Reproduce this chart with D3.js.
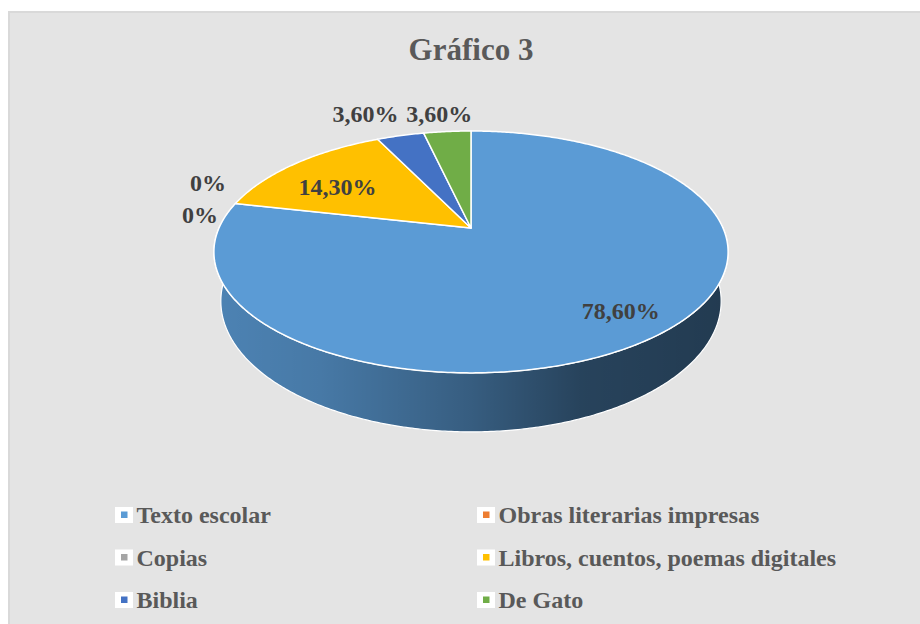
<!DOCTYPE html>
<html>
<head>
<meta charset="utf-8">
<script src="https://cdn.jsdelivr.net/npm/d3@7"></script>
<style>
  html, body { margin: 0; padding: 0; background: #ffffff; }
  svg { display: block; }
  text { font-family: "Liberation Serif", "Times New Roman", serif; font-weight: bold; }
</style>
</head>
<body>
<div id="chart"></div>
<script>
// data
var categories = ['Texto escolar', 'Obras literarias impresas', 'Copias',
                  'Libros, cuentos, poemas digitales', 'Biblia', 'De Gato'];
var values = [78.6, 0, 0, 14.3, 3.6, 3.6];
var colors = ['#5b9bd5', '#ed7d31', '#a5a5a5', '#ffc000', '#4472c4', '#70ad47'];
var title = 'Gráfico 3';

var width = 920,
	height = 624;

var svg = d3.select('#chart').append('svg')
	.attr('width', width)
	.attr('height', height);

// chart area
svg.append('rect')
	.attr('x', 9)
	.attr('y', 12)
	.attr('width', width)
	.attr('height', height)
	.style('fill', '#e4e4e4')
	.style('stroke', '#d9d9d9')
	.style('stroke-width', 2);

svg.append('text')
	.attr('x', 471)
	.attr('y', 60)
	.attr('text-anchor', 'middle')
	.style('font-size', '31px')
	.style('fill', '#595959')
	.text(title);

// 3d pie, perspective look like excel
var CX = 471, CY = 228,
	RX = 252, RY = 116.2,
	K = 0.198, DEPTH = 47.3, BOTTOM_SHRINK = 0.973;

// a = angle clockwise from the back (top of screen), r = fraction of radius
function project(a, r, bottom) {
	var x = Math.sin(a) * r,
		z = -Math.cos(a) * r;
	var w = 1 - K * z;
	var sx = RX * x / w,
		sy = CY + RY * z / w;
	if (bottom) {
		sx = sx * BOTTOM_SHRINK;
		sy = sy + DEPTH / w;
	}
	return [CX + sx, sy];
}

function arcPoints(a0, a1, r, bottom) {
	var n = Math.max(2, Math.ceil(Math.abs(a1 - a0) / 0.01));
	var pts = [];
	for (var i = 0; i <= n; i++) {
		pts.push(project(a0 + (a1 - a0) * i / n, r, bottom));
	}
	return pts;
}

var line = d3.line();

var pie = d3.pie()
	.sort(null)
	.value(function(d) { return d; });
var arcs = pie(values);

// side gradient (shading on the front wall)
var defs = svg.append('defs');
var grad = defs.append('linearGradient')
	.attr('id', 'sideShade')
	.attr('gradientUnits', 'userSpaceOnUse')
	.attr('x1', CX - RX).attr('x2', CX + RX)
	.attr('y1', 0).attr('y2', 0);
[[0, 0.16], [0.2, 0.22], [0.5, 0.40], [0.72, 0.57], [1, 0.62]].forEach(function(s) {
	grad.append('stop')
		.attr('offset', s[0])
		.attr('stop-color', '#000')
		.attr('stop-opacity', s[1]);
});

var FRONT0 = Math.PI / 2, FRONT1 = Math.PI * 3 / 2;
var sides = svg.append('g').classed('sides', true);
arcs.forEach(function(d, i) {
	var a0 = Math.max(d.startAngle, FRONT0),
		a1 = Math.min(d.endAngle, FRONT1);
	if (a1 <= a0) return;
	var pts = arcPoints(a0, a1, 1, false)
		.concat(arcPoints(a1, a0, 1, true));
	var p = line(pts) + 'Z';
	sides.append('path')
		.attr('d', p)
		.style('fill', colors[i]);
	sides.append('path')
		.attr('d', p)
		.style('fill', 'url(#sideShade)')
		.style('stroke', '#ffffff')
		.style('stroke-width', 1.2);
});

// top face
var topFace = svg.append('g').classed('top-face', true);
arcs.forEach(function(d, i) {
	if (d.endAngle - d.startAngle <= 0) return;
	var pts = [[CX, CY]].concat(arcPoints(d.startAngle, d.endAngle, 1, false));
	topFace.append('path')
		.attr('d', line(pts) + 'Z')
		.style('fill', colors[i])
		.style('stroke', '#ffffff')
		.style('stroke-width', 1.5)
		.style('stroke-linejoin', 'round');
});

// data labels
function fmt(v) {
	return v === 0 ? '0%' : v.toFixed(2).replace('.', ',') + '%';
}
// label nudges in px, like excel moves them to avoid overlaps
var labelShift = [[10, 3], [-5, -18], [-13, 14], [7, 10], [-29, -14], [-6, -10]];
function labelPos(d, i) {
	var inside = d.value >= 10;
	var p = project((d.startAngle + d.endAngle) / 2, inside ? 0.78 : 1.1, false);
	return [p[0] + labelShift[i][0], p[1] + labelShift[i][1] + 8];
}
svg.append('g').selectAll('text')
	.data(arcs)
	.enter()
	.append('text')
	.attr('text-anchor', 'middle')
	.style('font-size', '24px')
	.style('fill', '#404040')
	.attr('x', function(d, i) { return labelPos(d, i)[0]; })
	.attr('y', function(d, i) { return labelPos(d, i)[1]; })
	.text(function(d) { return fmt(d.value); });

// legend, two columns
var legend = svg.append('g').classed('legend', true);
var colX = [115, 477], rowY = [523, 565.5, 608];
categories.forEach(function(c, i) {
	var x = colX[i % 2], y = rowY[Math.floor(i / 2)];
	legend.append('rect')
		.attr('x', x).attr('y', y - 16)
		.attr('width', 18).attr('height', 16)
		.style('fill', '#ffffff');
	legend.append('rect')
		.attr('x', x + 6).attr('y', y - 11.5)
		.attr('width', 6.5).attr('height', 6.5)
		.style('fill', colors[i]);
	legend.append('text')
		.attr('x', x + 21.5)
		.attr('y', y)
		.style('font-size', '24px')
		.style('fill', '#595959')
		.text(c);
});
</script>
</body>
</html>
